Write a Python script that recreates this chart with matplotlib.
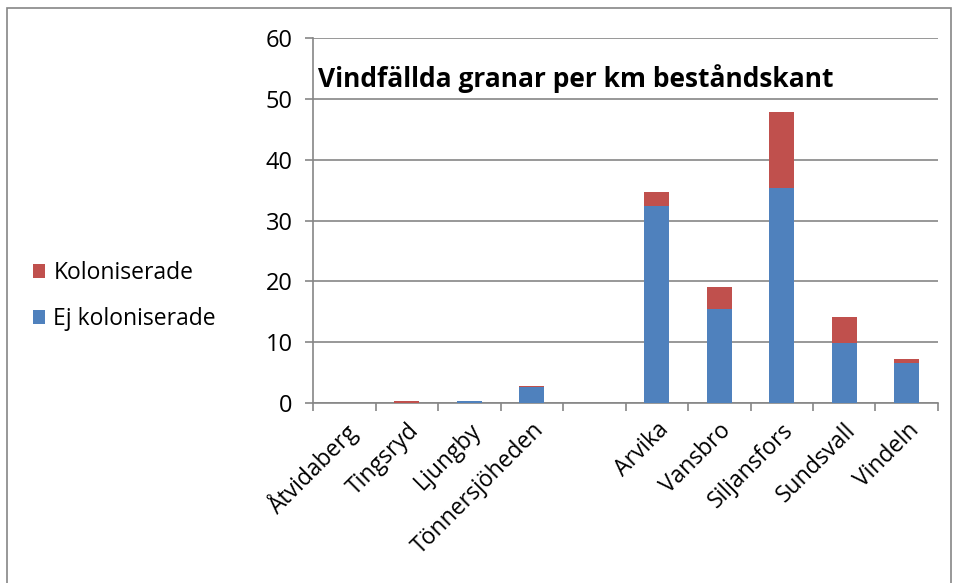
import numpy as np
import matplotlib.pyplot as plt
from matplotlib.patches import Rectangle

platser = ['Åtvidaberg', 'Tingsryd', 'Ljungby', 'Tönnersjöheden', '',
           'Arvika', 'Vansbro', 'Siljansfors', 'Sundsvall', 'Vindeln']
ej_koloniserade = [0, 0, 0.3, 2.55, 0, 32.4, 15.4, 35.4, 9.8, 6.6]
koloniserade = [0, 0.3, 0, 0.3, 0, 2.3, 3.6, 12.5, 4.4, 0.7]

plt.rcParams['font.family'] = ['Open Sans', 'DejaVu Sans']

fig = plt.figure(figsize=(9.59, 5.83), dpi=100)
W, H = 959, 583
ax = fig.add_axes([313 / W, 1 - 403 / H, 625 / W, 365 / H])

# ram runt diagrammet
fig.patches.append(Rectangle((7 / W, -0.1), 944 / W, 1.1 - 8 / H, transform=fig.transFigure,
                             fill=False, edgecolor='#868686', linewidth=1.2))

x = np.arange(len(platser))
blue = '#4F81BD'
red = '#C0504D'
ax.bar(x, ej_koloniserade, width=0.4, color=blue, label='Ej koloniserade', zorder=3)
ax.bar(x, koloniserade, width=0.4, bottom=ej_koloniserade, color=red, label='Koloniserade', zorder=3)

ax.set_xlim(-0.5, len(platser) - 0.5)
ax.set_ylim(0, 60)
ax.set_yticks(range(0, 61, 10))
ax.yaxis.grid(True, color='#868686', linewidth=1.2, zorder=0)

for s in ['top', 'right']:
    ax.spines[s].set_visible(False)
for s in ['left', 'bottom']:
    ax.spines[s].set_color('#868686')
    ax.spines[s].set_linewidth(1.2)

ax.set_xticks(np.arange(-0.5, len(platser), 1))
ax.set_xticklabels([])
ax.set_xticks(x, minor=True)
ax.set_xticklabels(platser, minor=True, rotation=45, ha='right', rotation_mode='anchor', fontsize=16.5)
ax.tick_params(axis='x', which='minor', length=0, pad=11)
ax.tick_params(axis='x', which='major', length=5.5, color='#868686', width=1.2)
ax.tick_params(axis='y', length=5.5, color='#868686', width=1.2, labelsize=17, pad=9)

ax.text(0.008, 0.89, 'Vindfällda granar per km beståndskant', transform=ax.transAxes,
        fontsize=19, fontweight='bold', va='center', ha='left')

handles, labels = ax.get_legend_handles_labels()
fig.legend(handles[::-1], labels[::-1], loc='center left', bbox_to_anchor=(12 / W, 1 - 296 / H),
           frameon=False, fontsize=16.5, handlelength=0.55, handleheight=0.55,
           handletextpad=0.35, labelspacing=0.95)

fig.savefig('out.png', dpi=100)
